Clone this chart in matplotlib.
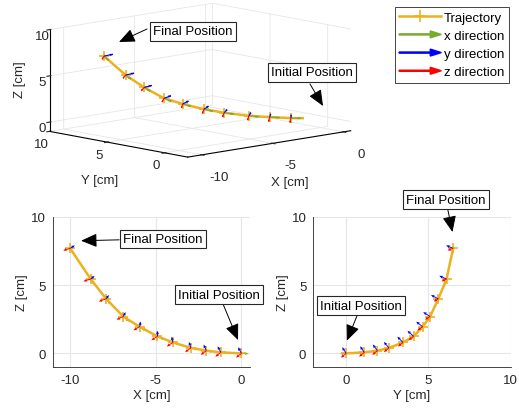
import numpy as np
import matplotlib
matplotlib.use("Agg")
import matplotlib.pyplot as plt
from matplotlib.lines import Line2D
from matplotlib.patches import FancyArrow
from matplotlib.legend_handler import HandlerBase
from mpl_toolkits.mplot3d import Axes3D  # noqa

plt.rcParams['font.family'] = ['Liberation Sans', 'DejaVu Sans']
plt.rcParams['font.size'] = 9.5
plt.rcParams['axes.unicode_minus'] = False

# ---- data (cm) ----
traj_x = [0.0, -1.2, -2.05, -2.95, -4.0, -4.9, -5.95, -6.9, -7.9, -8.8, -10.0]
traj_y = [0.0, 1.1, 1.9, 2.6, 3.45, 4.1, 4.65, 5.1, 5.6, 6.1, 6.5]
traj_z = [0.0, 0.07, 0.2, 0.4, 0.8, 1.25, 1.95, 2.7, 4.0, 5.45, 7.7]
x_ticks = [-10, -5, 0]
y_ticks = [0, 5, 10]
z_ticks = [0, 5, 10]
arrow_len = 0.55
frame_roll_deg = 35

ORANGE = '#EDB120'
GREEN = '#77AC30'
BLUE = '#0000FF'
RED = '#FF0000'
AX_COL = '#262626'
GRID_COL = '#E6E6E6'
FS = 9.5

P = np.array([traj_x, traj_y, traj_z]).T
# orientation frames derived from the trajectory tangent
T = np.gradient(P, axis=0)
T = T / np.linalg.norm(T, axis=1, keepdims=True)
G = -T
up = np.array([0, 0, 1.0])
B0 = up - (T @ up)[:, None] * T
B0 = B0 / np.linalg.norm(B0, axis=1, keepdims=True)
R0 = np.cross(B0, T)
R0 = R0 / np.linalg.norm(R0, axis=1, keepdims=True)
phi = np.deg2rad(frame_roll_deg)
B = np.cos(phi) * B0 + np.sin(phi) * R0
R = -np.sin(phi) * B0 + np.cos(phi) * R0
frames = [(G, GREEN), (B, BLUE), (R, RED)]

fig = plt.figure(figsize=(5.19, 4.10), dpi=100)
H = 410

# ---------------- 3D view ----------------
ax3 = fig.add_axes([0.0, 0.535, 0.76, 0.52], projection='3d')
ax3.set_proj_type('ortho')
for V, c in frames:
    ax3.quiver(P[:, 0], P[:, 1], P[:, 2], V[:, 0], V[:, 1], V[:, 2],
               length=arrow_len, color=c, linewidth=0.8, arrow_length_ratio=0.35)
ax3.plot(traj_x, traj_y, traj_z, color=ORANGE, lw=1.8, marker='+', ms=7, mew=1.2)
ax3.set_xlim(-11, 0.5)
ax3.set_ylim(-2, 10)
ax3.set_zlim(-1, 10)
ax3.set_xticks(x_ticks)
ax3.set_yticks(y_ticks)
ax3.set_zticks(z_ticks)
ax3.view_init(elev=10, azim=-133)
ax3.set_box_aspect((1.1, 1.0, 0.51), zoom=1.45)
for a in (ax3.xaxis, ax3.yaxis, ax3.zaxis):
    a.set_pane_color((1, 1, 1, 0))
    a._axinfo['grid']['color'] = GRID_COL
    a._axinfo['grid']['linewidth'] = 0.6
    a._axinfo['axisline']['color'] = AX_COL
    a._axinfo['tick']['color'] = AX_COL
    a.pane.set_edgecolor('#D8D8D8')
ax3.xaxis.set_tick_params(colors=AX_COL, labelsize=FS, pad=2)
ax3.yaxis.set_tick_params(colors=AX_COL, labelsize=FS, pad=-4)
ax3.zaxis.set_tick_params(colors=AX_COL, labelsize=FS, pad=-6)
fig.text(290, H - 183, 'X [cm]', transform=None, ha='center', va='center',
         color=AX_COL, fontsize=FS)
fig.text(100, H - 181, 'Y [cm]', transform=None, ha='center', va='center',
         color=AX_COL, fontsize=FS)
fig.text(20, H - 80, 'Z [cm]', transform=None, ha='center', va='center',
         color=AX_COL, fontsize=FS, rotation=90)

bbox_kw = dict(boxstyle='square,pad=0.25', fc='white', ec='#262626', lw=0.8)
arr_kw = dict(arrowstyle='-|>,head_length=0.7,head_width=0.3', color='k', lw=0.7,
              mutation_scale=14, shrinkA=0, shrinkB=0)
fig.text(193, H - 32.5, 'Final Position', transform=None, ha='center', va='center',
         bbox=bbox_kw, color='k', fontsize=FS)
fig.add_artist(plt.Annotation('', xy=(119, H - 43), xytext=(147, H - 30),
                              xycoords='figure pixels', textcoords='figure pixels',
                              arrowprops=arr_kw))
fig.text(312, H - 73.5, 'Initial Position', transform=None, ha='center', va='center',
         bbox=bbox_kw, color='k', fontsize=FS)
fig.add_artist(plt.Annotation('', xy=(323, H - 107), xytext=(310, H - 85),
                              xycoords='figure pixels', textcoords='figure pixels',
                              arrowprops=arr_kw))


# ---------------- 2D views ----------------
def style2d(ax, xl, xlab, xt):
    ax.set_ylim(-1, 10)
    ax.set_xlim(*xl)
    ax.set_xticks(xt)
    ax.set_yticks(z_ticks)
    ax.grid(True, color=GRID_COL, lw=0.8)
    ax.set_axisbelow(True)
    for s in ('top', 'right'):
        ax.spines[s].set_visible(False)
    for s in ('left', 'bottom'):
        ax.spines[s].set_color(AX_COL)
        ax.spines[s].set_linewidth(0.6)
    ax.tick_params(colors=AX_COL, labelsize=FS, length=0, pad=5)
    ax.set_xlabel(xlab, color=AX_COL, labelpad=2, fontsize=FS)
    ax.set_ylabel('Z [cm]', color=AX_COL, labelpad=2, fontsize=FS)


def draw2d(ax, i, j):
    zo = {GREEN: 1, BLUE: 3, RED: 3}
    for V, c in frames:
        ax.quiver(P[:, i], P[:, j], V[:, i] * arrow_len, V[:, j] * arrow_len,
                  angles='xy', scale_units='xy', scale=1, color=c,
                  width=0.0045, headwidth=3.5, headlength=4, headaxislength=3.5,
                  zorder=zo[c])
    ax.plot(P[:, i], P[:, j], color=ORANGE, lw=1.8, marker='+', ms=7, mew=1.2, zorder=2)


axL = fig.add_axes([53 / 519, (410 - 368) / 410, (250 - 53) / 519, 150 / 410])
draw2d(axL, 0, 2)
style2d(axL, (-11, 0.5), 'X [cm]', x_ticks)
axL.annotate('Final Position', xy=(-9.36, 8.26), xytext=(-4.6, 8.4),
             ha='center', va='center', bbox=bbox_kw, arrowprops=arr_kw,
             annotation_clip=False, fontsize=FS)
axL.annotate('Initial Position', xy=(-0.2, 0.98), xytext=(-1.3, 4.3),
             ha='center', va='center', bbox=bbox_kw, arrowprops=arr_kw,
             annotation_clip=False, fontsize=FS)

axR = fig.add_axes([313.3 / 519, (410 - 368) / 410, (510.7 - 313.3) / 519, 150 / 410])
draw2d(axR, 1, 2)
style2d(axR, (-2, 10), 'Y [cm]', y_ticks)
axR.annotate('Final Position', xy=(6.46, 8.9), xytext=(6.05, 11.27),
             ha='center', va='center', bbox=bbox_kw, arrowprops=arr_kw,
             annotation_clip=False, fontsize=FS)
axR.annotate('Initial Position', xy=(0.04, 0.93), xytext=(0.91, 3.5),
             ha='center', va='center', bbox=bbox_kw, arrowprops=arr_kw,
             annotation_clip=False, fontsize=FS)


# ---------------- legend ----------------
class ArrowHandler(HandlerBase):
    def create_artists(self, legend, orig_handle, xdescent, ydescent, width, height,
                       fontsize, trans):
        a = FancyArrow(-xdescent, height / 2 - ydescent, width, 0,
                       width=0.8, head_width=5, head_length=8,
                       length_includes_head=True, color=orig_handle.get_color(),
                       transform=trans)
        return [a]


h_traj = Line2D([], [], color=ORANGE, lw=1.8, marker='+', ms=9, mew=1.2)
h_x = Line2D([], [], color=GREEN)
h_y = Line2D([], [], color=BLUE)
h_z = Line2D([], [], color=RED)
leg = fig.legend([h_traj, h_x, h_y, h_z],
                 ['Trajectory', 'x direction', 'y direction', 'z direction'],
                 loc='upper right', bbox_to_anchor=(509 / 519, 1 - 8 / 410),
                 handler_map={h_x: ArrowHandler(), h_y: ArrowHandler(), h_z: ArrowHandler()},
                 fancybox=False, edgecolor='#262626', framealpha=1,
                 handlelength=3.2, handletextpad=0.2, borderpad=0.35,
                 labelspacing=0.45, borderaxespad=0, fontsize=FS)
leg.get_frame().set_linewidth(0.6)

fig.savefig('out.png', dpi=100)
